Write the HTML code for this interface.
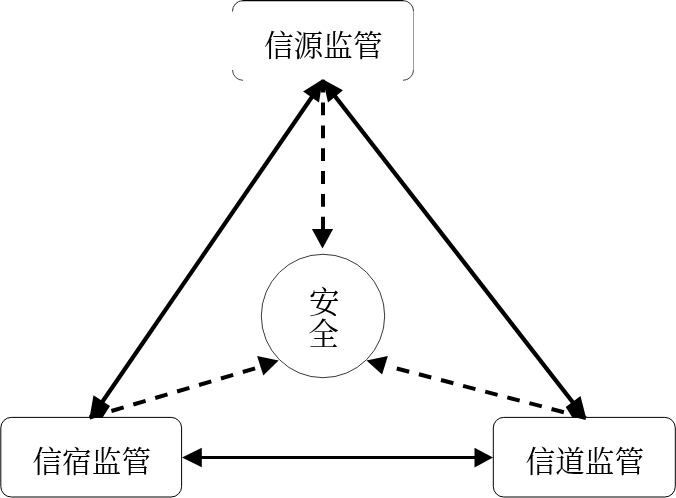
<!DOCTYPE html>
<html lang="zh-CN">
<head>
<meta charset="utf-8">
<title>信源监管 信宿监管 信道监管 安全</title>
<style>
html,body{margin:0;padding:0;background:#fff;}
body{width:676px;height:498px;overflow:hidden;position:relative;}
svg{position:absolute;left:0;top:0;display:block;}
text{font-family:"Liberation Serif","Noto Serif CJK SC",serif;fill:#000;}
</style>
</head>
<body>
<svg width="676" height="498" viewBox="0 0 676 498">
  <rect x="0" y="0" width="676" height="498" fill="#fff"/>
  <!-- top box (faint sides) -->
  <g fill="none" stroke-width="1">
    <path d="M242 0.6 L403.5 0.6" stroke="#000" stroke-width="1.3"/>
    <path d="M232.5 11.5 A10.5 10.5 0 0 1 243 0.6" stroke="#333"/>
    <path d="M403 0.6 A10.5 10.5 0 0 1 413.5 11" stroke="#333"/>
    <path d="M413.5 11 L413.5 70" stroke="#9a9a9a"/>
    <path d="M413.5 70 A10.5 10.5 0 0 1 403 80.3" stroke="#444"/>
    <path d="M243 80.3 A10.5 10.5 0 0 1 232.5 70" stroke="#444"/>
  </g>
  <!-- bottom boxes -->
  <rect x="0.8" y="417.4" width="180.8" height="79.6" rx="10.5" ry="10.5" fill="none" stroke="#000" stroke-width="1"/>
  <rect x="493.3" y="417.4" width="182" height="79.6" rx="10.5" ry="10.5" fill="none" stroke="#000" stroke-width="1"/>
  <!-- circle -->
  <circle cx="323" cy="316" r="61.7" fill="none" stroke="#222" stroke-width="0.9"/>
  <!-- solid lines -->
  <g stroke="#000" stroke-width="4" fill="none">
    <line x1="316.7" y1="90" x2="98.1" y2="408" stroke-width="4.2"/>
    <line x1="329" y1="88.5" x2="578" y2="409" stroke-width="4.3"/>
    <line x1="195" y1="457.5" x2="480" y2="457.5" stroke-width="3.2"/>
  </g>
  <!-- dashed lines -->
  <g stroke="#000" stroke-width="4" fill="none" stroke-dasharray="12.8 10.05">
    <line x1="323" y1="79.7" x2="323" y2="231"/>
    <line x1="89.5" y1="417.5" x2="263" y2="366"/>
    <line x1="586" y1="418" x2="389.6" y2="366.6"/>
  </g>
  <!-- arrowheads -->
  <g fill="#000" stroke="none">
    <polygon points="322.7,79.2 303.1,91.4 319,102.5"/>
    <polygon points="322.7,79.2 343,90.3 328,102.5"/>
    <polygon points="89.5,417.9 93.5,395.2 110,406 102.5,417.7"/>
    <polygon points="586.1,418.1 572.5,417.7 565.7,407.1 580.5,395.9"/>
    <polygon points="182,457.5 201.8,447.8 201.8,467.3"/>
    <polygon points="493,457.5 474.5,447.8 474.5,467.4"/>
    <polygon points="322.5,248.6 311.9,229.1 333.1,229.1"/>
    <polygon points="278.6,360.6 257.1,356 263.3,375.6"/>
    <polygon points="366.5,360.6 387.9,356 382.1,374.6"/>
  </g>
  <!-- labels -->
  <g font-size="29.7" text-anchor="middle" font-weight="400" style="will-change:transform">
    <text x="323.3" y="56.1">信源监管</text>
    <text x="91.75" y="472.4">信宿监管</text>
    <text x="584.85" y="472.4">信道监管</text>
    <text x="324.2" y="313" font-size="30.5">安</text>
    <text x="323.6" y="345.1" font-size="30.5">全</text>
  </g>
</svg>
</body>
</html>
